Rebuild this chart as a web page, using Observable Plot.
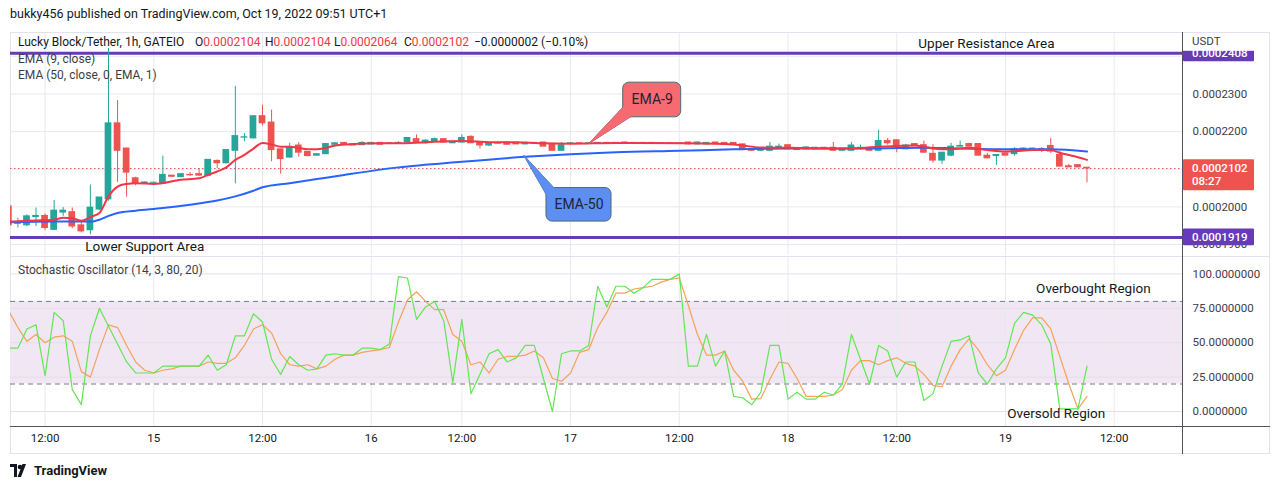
<!DOCTYPE html>
<html>
<head>
<meta charset="utf-8">
<script src="https://cdn.jsdelivr.net/npm/d3@7"></script>
<script src="https://cdn.jsdelivr.net/npm/@observablehq/plot@0.6"></script>
<style>
  html, body { margin: 0; padding: 0; background: #fff; width: 1280px; height: 489px; overflow: hidden; }
  body { font-family: Roboto, "Noto Sans", sans-serif; color: #131722; }
  #root { position: relative; width: 1280px; height: 489px; }
  .abs { position: absolute; white-space: nowrap; }
  .r { color: #f23645; }
  .legend { font-size: 12px; color: #131722; line-height: 16px; }
  .frame { position: absolute; left: 10px; top: 32px; width: 1260px; height: 422px; box-sizing: border-box; border: 1px solid #e0e3eb; }
  svg { position: absolute; left: 0; overflow: visible; }
</style>
</head>
<body>
<div id="root">
  <div class="abs" style="left:10px;top:6px;font-size:12.5px;color:#131722;">bukky456 published on TradingView.com, Oct 19, 2022 09:51 UTC+1</div>
  <div class="frame"></div>
  <div class="abs" style="left:10px;top:256px;width:1260px;height:1px;background:#e0e3eb;"></div>
  <div id="main"></div>
  <div id="osc"></div>
  <div class="abs" style="left:1182px;top:32px;width:1px;height:422px;background:#50535e;"></div>
  <div class="abs" style="left:10px;top:426px;width:1260px;height:1px;background:#50535e;"></div>
  <div class="abs legend" style="left:18px;top:34px;">Lucky Block/Tether, 1h, GATEIO</div>
  <div class="abs legend" style="left:195px;top:34px;">O<span class="r">0.0002104</span></div>
  <div class="abs legend" style="left:265px;top:34px;">H<span class="r">0.0002104</span></div>
  <div class="abs legend" style="left:334px;top:34px;">L<span class="r">0.0002064</span></div>
  <div class="abs legend" style="left:404px;top:34px;">C<span class="r">0.0002102</span></div>
  <div class="abs legend r" style="left:474px;top:34px;">−0.0000002 (−0.10%)</div>
  <div class="abs legend" style="left:18px;top:51px;color:#3b3e48;">EMA (9, close)</div>
  <div class="abs legend" style="left:18px;top:67px;color:#3b3e48;">EMA (50, close, 0, EMA, 1)</div>
  <div class="abs legend" style="left:18px;top:262px;color:#3b3e48;">Stochastic Oscillator (14, 3, 80, 20)</div>
  <div class="abs" style="left:10px;top:463px;display:flex;align-items:center;gap:4px;">
    <svg width="20" height="13" viewBox="0 0 20 13" style="position:static">
      <path d="M0 0h7v13H4V3H0z" fill="#131722"/>
      <circle cx="10" cy="3" r="2.3" fill="#131722"/>
      <path d="M12.5 0H16l-5 13H7.5z" fill="#131722"/>
    </svg>
    <span style="font-size:13px;font-weight:700;color:#131722;">TradingView</span>
  </div>
</div>
<script>
// ---- data (prices in units of 1e-7 USDT), hourly bars, bar index -1 .. 118 ----
const FIRST_IDX = -1;
const openU = [
  2001,1955,1951,1973,1976,1939,1985,1986,1951,1938,
  1993,2020,2222,2155,2076,2063,2064,2061,2083,2079,
  2085,2087,2083,2122,2116,2149,2184,2182,2241,2224,
  2153,2131,2163,2146,2136,2140,2165,2170,2166,2164,
  2166,2170,2169,2168,2171,2180,2169,2175,2180,2169,
  2171,2186,2171,2163,2170,2171,2171,2166,2170,2171,
  2166,2149,2168,2169,2168,2169,2170,2169,2171,2170,
  2169,2170,2168,2169,2168,2171,2166,2166,2171,2170,
  2170,2166,2154,2149,2149,2157,2164,2151,2153,2153,
  2157,2157,2149,2149,2155,2155,2149,2175,2177,2153,
  2167,2164,2141,2123,2136,2160,2167,2167,2136,2135,
  2142,2140,2151,2153,2154,2162,2138,2108,2111,2104];
const highU = [
  2003,1970,1979,1997,1981,2017,1998,1997,1961,2058,
  2025,2421,2283,2156,2079,2066,2066,2135,2084,2089,
  2091,2102,2125,2125,2152,2320,2195,2242,2270,2257,
  2153,2169,2171,2146,2141,2167,2170,2170,2167,2173,
  2170,2171,2169,2173,2183,2191,2178,2183,2181,2173,
  2191,2189,2172,2170,2171,2171,2172,2170,2171,2171,
  2166,2171,2170,2170,2170,2171,2171,2171,2172,2171,
  2171,2171,2170,2170,2170,2172,2172,2171,2172,2171,
  2171,2167,2155,2156,2171,2167,2165,2156,2159,2158,
  2158,2171,2155,2171,2164,2156,2204,2182,2178,2166,
  2168,2175,2166,2144,2169,2175,2169,2168,2142,2138,
  2143,2157,2156,2156,2157,2182,2147,2113,2112,2104];
const lowU = [
  1948,1944,1948,1948,1938,1938,1975,1942,1931,1926,
  1990,2015,2065,2026,2056,2062,2062,2060,2079,2078,
  2081,2082,2080,2102,2114,2061,2173,2181,2215,2120,
  2087,2130,2132,2133,2135,2139,2164,2165,2163,2164,
  2165,2165,2167,2168,2171,2170,2167,2174,2170,2168,
  2169,2168,2154,2160,2167,2165,2166,2165,2168,2160,
  2149,2149,2167,2167,2167,2168,2168,2168,2167,2168,
  2168,2167,2167,2167,2167,2165,2165,2165,2167,2165,
  2166,2152,2148,2148,2149,2157,2152,2150,2152,2152,
  2153,2148,2148,2149,2151,2148,2149,2164,2144,2153,
  2161,2142,2116,2113,2133,2159,2160,2135,2128,2110,
  2136,2135,2150,2152,2144,2142,2107,2105,2104,2064];
const closeU = [
  1951,1959,1975,1976,1944,1990,1990,1948,1935,1998,
  2025,2222,2149,2091,2061,2065,2064,2085,2080,2087,
  2084,2083,2125,2116,2151,2188,2185,2241,2222,2151,
  2127,2157,2144,2135,2140,2167,2169,2165,2163,2170,
  2170,2165,2167,2170,2183,2171,2176,2180,2171,2173,
  2183,2169,2163,2170,2168,2165,2166,2170,2168,2160,
  2149,2164,2169,2168,2169,2170,2169,2170,2168,2169,
  2170,2168,2169,2168,2169,2166,2171,2170,2168,2166,
  2167,2153,2149,2155,2160,2160,2153,2155,2158,2157,
  2154,2149,2154,2163,2157,2149,2175,2169,2160,2163,
  2162,2144,2123,2144,2160,2162,2160,2136,2129,2138,
  2136,2153,2155,2155,2149,2147,2107,2105,2105,2102];

// EMA lines at sample bars
const ema9Idx = [-1,0,2,4,5,6,7,8,9,10,11,12,13,15,18,20,21,22,23,24,25,26,27,28,29,30,31,32,33,34,35,37,40,42,45,49,52,56,58,61,66,74,79,80,82,85,90,93,95,97,99,100,101,102,103,105,107,109,110,112,114,115,116,117,118];
const ema9U   = [1961,1962,1964,1966,1971,1970,1963,1973,1984,2028,2054,2061,2063,2061,2072,2076,2085,2094,2105,2125,2138,2155,2170,2166,2160,2160,2157,2153,2153,2157,2163,2167,2169,2169,2172,2175,2172,2171,2169,2168,2170,2169,2166,2163,2158,2157,2155,2156,2160,2162,2163,2160,2155,2153,2153,2157,2151,2147,2148,2151,2151,2144,2138,2132,2125];
const ema50Idx = [-1,4,8,9,10,11,13,16,19,22,24,26,27,30,33,36,42,49,56,61,66,73,79,85,92,100,103,109,114,118];
const ema50U   = [1959,1961,1961,1966,1976,1984,1990,1997,2006,2017,2028,2043,2052,2063,2074,2085,2105,2120,2133,2140,2145,2149,2153,2155,2155,2157,2156,2153,2153,2147];

// Stochastic oscillator %K and %D per bar (-1 .. 118)
const stochK = [
  46,46,60,63,26,72,66,16,5,55,
  75,62,49,36,28,28,28,33,33,33,
  33,33,41,30,34,55,55,71,65,38,
  27,40,34,30,31,41,42,41,41,46,
  46,45,49,98,97,67,76,80,66,21,
  67,13,27,42,45,36,39,48,48,24,
  0,42,44,44,48,91,76,91,91,86,
  90,96,96,96,100,33,33,56,33,44,
  11,10,5,14,48,48,9,14,9,9,
  14,12,20,56,38,20,48,44,25,36,
  36,8,13,33,51,52,55,28,20,31,
  39,64,72,70,63,49,2,2,2,33];
const stochD = [
  73,61,51,56,50,54,55,51,29,25,
  45,63,61,48,36,30,28,30,31,33,
  33,33,36,35,35,39,48,60,63,57,
  42,34,33,34,31,33,38,41,41,43,
  44,45,46.5,65,81,87,80,74,74,56,
  51,34,36,28,38,40,40,41,44,39,
  24,22,28,43,45,61,72,86,86,89,
  90,91,94,96,97,77,56,41,41,44,
  30,22,9,9.4,23.5,36,35,24,11,11,
  11,12,16,30,37,37,34,37,39,35,
  33,27,19,18,33,45,53,45,34,26,
  30,45,59,68,68,60,40,20,2,11];

// axes
const tickIdx = [3,15,27,39,49,61,73,85,97,109,121];
const tickLabels = ["12:00","15","12:00","16","12:00","17","12:00","18","12:00","19","12:00"];
const priceGridU = [1900,2000,2100,2200,2300,2400];
const priceLabelU = [1900,2000,2200,2300];
const stochTicks = [0,25,50,75,100];
const stochBands = [20, 80];

// levels
const upperResistanceU = 2408;
const lowerSupportU = 1919;
const lastCloseU = 2102;
const countdown = "08:27";

// annotations (bar index, price units)
const noteText = ["Upper Resistance Area", "Lower Support Area"];
const noteIdx = [106.9, 14.0];
const noteU = [2434, 1895];
const oscNoteText = ["Overbought Region", "Oversold Region"];
const oscNoteIdx = [118.7, 114.6];
const oscNoteV = [89.4, -1.5];

// callouts
const calloutText = ["EMA-9", "EMA-50"];
const calloutFill = ["#f76a72", "#5d8ef2"];
const calloutX1 = [66.81, 58.34], calloutX2 = [73.21, 65.52];
const calloutU1 = [2238, 1961], calloutU2 = [2330, 2050];
const calloutTipIdx = [63.0, 55.84], calloutTipU = [2168, 2137];
const calloutBaseAIdx = [66.95, 58.57], calloutBaseAU = [2269, 2022];
const calloutBaseBIdx = [67.84, 59.34], calloutBaseBU = [2243, 2046];

// ---- build ----
const P = u => u * 1e-7;
const TEAL = "#26a69a", RED = "#ef5350", BLUE = "#2962ff", EMA9C = "#f23645", PURPLE = "#673ab7";
const GRID = "#e6eaf0", TXT = "#3d404a";
const xDomain = [-0.817, 128.65];
const fmt7 = d3.format(".7f");

const candles = openU.map((o, j) => ({
  i: j + FIRST_IDX, open: P(o), high: P(highU[j]), low: P(lowU[j]), close: P(closeU[j])
}));
const col = d => d.close >= d.open ? TEAL : RED;
const ema9 = ema9Idx.map((i, j) => ({i, v: P(ema9U[j])}));
const ema50 = ema50Idx.map((i, j) => ({i, v: P(ema50U[j])}));
const notes = noteText.map((t, j) => ({t, i: noteIdx[j], v: P(noteU[j])}));
const callouts = calloutText.map((t, j) => ({
  t, fill: calloutFill[j], x1: calloutX1[j], x2: calloutX2[j], y1: P(calloutU1[j]), y2: P(calloutU2[j])
}));
const wedges = calloutText.flatMap((t, j) => [
  {k: t, fill: calloutFill[j], i: calloutBaseAIdx[j], v: P(calloutBaseAU[j])},
  {k: t, fill: calloutFill[j], i: calloutTipIdx[j], v: P(calloutTipU[j])},
  {k: t, fill: calloutFill[j], i: calloutBaseBIdx[j], v: P(calloutBaseBU[j])}
]);

const mainPlot = Plot.plot({
  width: 1280, height: 222,
  marginLeft: 10, marginRight: 97, marginTop: 0, marginBottom: 0,
  x: {domain: xDomain, axis: null},
  y: {domain: [P(1870.9), P(2460.6)], axis: null},
  color: {type: "identity"},
  style: {fontFamily: "Roboto, sans-serif", fontSize: "11.5px", color: TXT, background: "transparent", overflow: "visible"},
  marks: [
    Plot.gridY(priceGridU.map(P), {stroke: GRID, strokeOpacity: 1}),
    Plot.gridX(tickIdx, {stroke: GRID, strokeOpacity: 1}),
    Plot.ruleY([P(upperResistanceU), P(lowerSupportU)], {stroke: PURPLE, strokeWidth: 3}),
    Plot.ruleY([P(lastCloseU)], {stroke: RED, strokeDasharray: "1.5,2.5"}),
    Plot.ruleX(candles, {x: "i", y1: "low", y2: "high", stroke: col, clip: true}),
    Plot.rect(candles, {
      x1: d => d.i - 0.37, x2: d => d.i + 0.37,
      y1: d => Math.min(d.open, d.close), y2: d => Math.max(d.open, d.close),
      fill: col, insetTop: -0.5, insetBottom: -0.5, clip: true
    }),
    Plot.line(ema50, {x: "i", y: "v", stroke: BLUE, strokeWidth: 2, curve: "monotone-x", clip: true}),
    Plot.line(ema9, {x: "i", y: "v", stroke: EMA9C, strokeWidth: 2, curve: "monotone-x", clip: true}),
    Plot.line(wedges, {x: "i", y: "v", z: "k", fill: "fill", stroke: "#4d6a78", strokeWidth: 1}),
    Plot.rect(callouts, {x1: "x1", x2: "x2", y1: "y1", y2: "y2", fill: "fill", stroke: "#4d6a78", strokeWidth: 1, rx: 6}),
    Plot.line(wedges, {x: "i", y: "v", z: "k", fill: "fill", stroke: "fill", strokeWidth: 0.5}),
    Plot.text(callouts, {x: d => (d.x1 + d.x2) / 2, y: d => (d.y1 + d.y2) / 2, text: "t", fill: "#1e2533", fontSize: 14}),
    Plot.text(notes, {x: "i", y: "v", text: "t", fill: "#131722", fontSize: 13.5}),
    Plot.axisY({anchor: "right", ticks: priceLabelU.map(P), tickFormat: fmt7, tickSize: 0, tickPadding: 9, label: null, fill: TXT})
  ]
});
mainPlot.style.top = "33px";
document.getElementById("main").appendChild(mainPlot);

// price labels on right axis, placed through the plot's scales
{
  const sx = mainPlot.scale("x"), sy = mainPlot.scale("y");
  const ax = sx.range[1];
  const g = d3.select(mainPlot).append("g")
    .attr("font-family", "Roboto, sans-serif").attr("font-size", 11.5).attr("text-anchor", "start");
  const box = (u, up, down, fill, lines) => {
    const yc = sy.apply(P(u));
    g.append("rect").attr("x", ax).attr("y", yc - up).attr("width", 71).attr("height", up + down).attr("fill", fill).attr("rx", 1);
    lines.forEach((t, k) => g.append("text").attr("x", ax + 9).attr("y", yc + 4 + k * 13).attr("fill", "#fff").attr("font-weight", 500).text(t));
  };
  box(upperResistanceU, 8.3, 8.5, PURPLE, [fmt7(P(upperResistanceU))]);
  // the USDT header of the axis hides the upper part of that box
  g.append("rect").attr("x", ax).attr("y", 0).attr("width", 86).attr("height", sy.apply(P(upperResistanceU)) - 2).attr("fill", "#fff");
  g.append("text").attr("x", ax + 9).attr("y", 12).attr("fill", TXT).text("USDT");
  box(lowerSupportU, 8.5, 8.3, PURPLE, [fmt7(P(lowerSupportU))]);
  box(lastCloseU, 8.8, 22.2, RED, [fmt7(P(lastCloseU)), countdown]);
}

const stoch = stochK.map((k, j) => ({i: j + FIRST_IDX, k, d: stochD[j]}));
const oscNotes = oscNoteText.map((t, j) => ({t, i: oscNoteIdx[j], v: oscNoteV[j]}));

const oscPlot = Plot.plot({
  width: 1280, height: 197,
  marginLeft: 10, marginRight: 97, marginTop: 0, marginBottom: 27,
  x: {domain: xDomain, axis: null},
  y: {domain: [-11.6, 111.9], axis: null},
  style: {fontFamily: "Roboto, sans-serif", fontSize: "11.5px", color: TXT, background: "transparent", overflow: "visible"},
  marks: [
    Plot.rect([stochBands], {x1: () => xDomain[0], x2: () => xDomain[1], y1: d => d[0], y2: d => d[1], fill: "#f1e6f3"}),
    Plot.gridY(stochTicks, {stroke: "#e2e0ea", strokeOpacity: 1}),
    Plot.gridX(tickIdx, {stroke: GRID, strokeOpacity: 1}),
    Plot.ruleY(stochBands, {stroke: "#787b86", strokeDasharray: "5,4"}),
    Plot.line(stoch, {x: "i", y: "d", stroke: "#f5a25a", strokeWidth: 1.2, clip: true}),
    Plot.line(stoch, {x: "i", y: "k", stroke: "#62e654", strokeWidth: 1.2, clip: true}),
    Plot.text(oscNotes, {x: "i", y: "v", text: "t", fill: "#131722", fontSize: 13.5}),
    Plot.axisY({anchor: "right", ticks: stochTicks, tickFormat: fmt7, tickSize: 0, tickPadding: 9, label: null, fill: TXT}),
    Plot.axisX({ticks: tickIdx, tickFormat: d => tickLabels[tickIdx.indexOf(d)], tickSize: 0, tickPadding: 6, label: null, fill: "#131722"})
  ]
});
oscPlot.style.top = "257px";
document.getElementById("osc").appendChild(oscPlot);
</script>
</body>
</html>
